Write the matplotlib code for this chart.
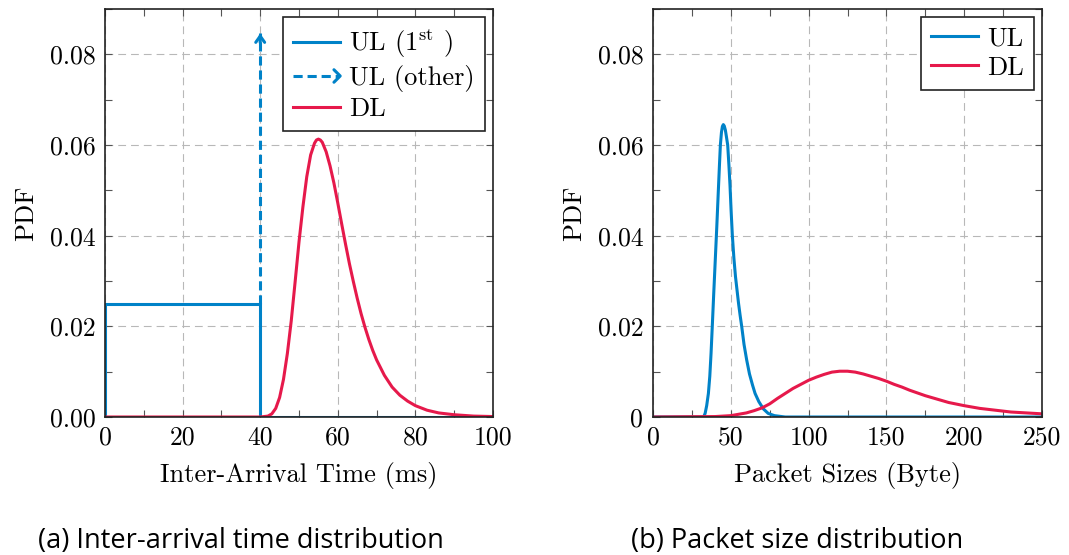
import matplotlib
matplotlib.use("Agg")
import matplotlib.pyplot as plt
from matplotlib.lines import Line2D
from matplotlib.legend_handler import HandlerBase
from matplotlib.ticker import MultipleLocator, FixedLocator, FixedFormatter

# ---------------- data ----------------
# (a) Inter-arrival time distribution
iat_ul1_x = [0, 0, 40, 40, 100]
iat_ul1_y = [0, 0.025, 0.025, 0, 0]
iat_ul_other_x = 40
iat_ul_other_y = [0.025, 0.0846]
iat_dl_x = [0, 40, 41, 42, 43, 44, 45, 46, 47, 48, 49, 50, 51, 52, 53, 54, 54.5,
            55, 55.5, 56, 57, 58, 59, 60, 61, 62, 63, 64, 65, 66, 67, 68, 69,
            70, 72, 74, 76, 78, 80, 83, 86, 90, 95, 100]
iat_dl_y = [0, 0.0000, 0.0001, 0.0002, 0.0007, 0.0019, 0.0043, 0.0083, 0.0140,
            0.0212, 0.0298, 0.0386, 0.0463, 0.0530, 0.0578, 0.0604, 0.0611,
            0.0613, 0.0611, 0.0606, 0.0585, 0.0554, 0.0516, 0.0472, 0.0426,
            0.0381, 0.0338, 0.0299, 0.0262, 0.0228, 0.0198, 0.0171, 0.0147,
            0.0126, 0.0092, 0.0066, 0.0048, 0.0035, 0.0025, 0.0015, 0.0009,
            0.0005, 0.0002, 0.0001]

# (b) Packet size distribution
ps_ul_x = [0, 32.5, 33.5, 34.5, 35.6, 36.5, 37.3, 38.1, 39.0, 40.0, 41.0, 42.0,
           42.7, 43.3, 44.0, 44.6, 45.2, 45.8, 46.5, 47.2, 48.0, 48.8, 49.5,
           50.2, 51.0, 52.0, 53.0, 54.0, 55.0, 56.0, 57.0, 58.5, 60.2, 62.0,
           64.0, 65.6, 68.0, 70.9, 74.0, 78.0, 85.0, 250]
ps_ul_y = [0, 0, 0.0008, 0.0025, 0.0052, 0.0090, 0.0140, 0.0200, 0.0270,
           0.0345, 0.0420, 0.0500, 0.0555, 0.0600, 0.0628, 0.0641, 0.0645,
           0.0642, 0.0633, 0.0618, 0.0600, 0.0555, 0.0510, 0.0455, 0.0400,
           0.0350, 0.0310, 0.0280, 0.0250, 0.0224, 0.0200, 0.0160, 0.0126,
           0.0095, 0.0070, 0.0052, 0.0034, 0.0018, 0.0008, 0.0003, 0.0000, 0]
ps_dl_x = [0, 40, 50, 60, 65, 70, 75, 80, 85, 90, 95, 100, 105, 110, 115, 120,
           125, 130, 135, 140, 145, 150, 155, 160, 165, 170, 175, 180, 185, 190,
           200, 210, 220, 230, 240, 250]
ps_dl_y = [0, 0.0001, 0.0003, 0.0009, 0.0014, 0.0020, 0.0029, 0.0041, 0.0052,
           0.0063, 0.0072, 0.0081, 0.0088, 0.0094, 0.0099, 0.0101, 0.0101,
           0.0099, 0.0095, 0.0090, 0.0085, 0.0079, 0.0072, 0.0066, 0.0059,
           0.0053, 0.0047, 0.0042, 0.0037, 0.0032, 0.0025, 0.0019, 0.0015,
           0.0011, 0.0009, 0.0007]

yticks = [0.0, 0.02, 0.04, 0.06, 0.08]
ytick_labels_a = ["0.00", "0.02", "0.04", "0.06", "0.08"]
ytick_labels_b = ["0", "0.02", "0.04", "0.06", "0.08"]
xticks_a = [0, 20, 40, 60, 80, 100]
xticks_b = [0, 50, 100, 150, 200, 250]

BLUE = "#0082c8"
RED = "#e6194b"
LW = 2.2

# ---------------- style ----------------
plt.rcParams["font.family"] = ["cmr10", "DejaVu Serif"]
plt.rcParams["mathtext.fontset"] = "cm"
plt.rcParams["axes.unicode_minus"] = False
FS = 18.5

fig = plt.figure(figsize=(10.69, 5.55), dpi=100)
ax1 = fig.add_axes([105 / 1069, 1 - 417 / 555, 388 / 1069, 408 / 555])
ax2 = fig.add_axes([653 / 1069, 1 - 417 / 555, 389 / 1069, 408 / 555])


class HandlerDashArrow(HandlerBase):
    def create_artists(self, legend, orig_handle, xdescent, ydescent, width,
                       height, fontsize, trans):
        y = height / 2 - ydescent
        x0 = -xdescent
        x1 = width - xdescent
        line = Line2D([x0, x1 - 1.5], [y, y], color=BLUE, lw=LW,
                      linestyle=(0, (3, 1.6)))
        head = Line2D([x1 - 4.5, x1, x1 - 4.5], [y + 4.5, y, y - 4.5],
                      color=BLUE, lw=LW, solid_joinstyle="round",
                      solid_capstyle="round")
        line.set_transform(trans)
        head.set_transform(trans)
        return [line, head]


def style_axes(ax, xlim, xticks, xminor, ylabels):
    ax.set_xlim(*xlim)
    ax.set_ylim(0, 0.09)
    ax.xaxis.set_major_locator(FixedLocator(xticks))
    ax.xaxis.set_minor_locator(MultipleLocator(xminor))
    ax.yaxis.set_major_locator(FixedLocator(yticks))
    ax.yaxis.set_major_formatter(FixedFormatter(ylabels))
    ax.yaxis.set_minor_locator(MultipleLocator(0.01))
    ax.tick_params(which="both", direction="in", top=True, right=True,
                   color="#555555", labelsize=FS, labelcolor="black")
    ax.tick_params(which="major", length=5, width=0.8)
    ax.tick_params(which="minor", length=5, width=0.8)
    ax.tick_params(axis="y", which="major", pad=7)
    ax.tick_params(axis="x", which="major", pad=6)
    ax.grid(True, which="major", color="#b8b8b8", lw=0.8,
            linestyle=(0, (7, 4.5)))
    ax.set_axisbelow(True)
    for s in ax.spines.values():
        s.set_linewidth(1.2)
        s.set_color("#222222")
    ax.set_ylabel("PDF", fontsize=FS + 0.5, labelpad=8)


LEG_KW = dict(loc="upper right", fontsize=FS + 0.5, frameon=True,
              fancybox=False, edgecolor="#222222", framealpha=1,
              borderaxespad=0.3, handlelength=1.8, handletextpad=0.35,
              borderpad=0.38, labelspacing=0.2)

# ---------------- (a) ----------------
style_axes(ax1, (0, 100), xticks_a, 10, ytick_labels_a)
ax1.plot(iat_ul1_x, iat_ul1_y, color=BLUE, lw=LW, solid_joinstyle="miter")
ax1.plot([iat_ul_other_x, iat_ul_other_x], iat_ul_other_y, color=BLUE, lw=LW,
         linestyle=(0, (3, 1.6)))
ax1.annotate("", xy=(iat_ul_other_x, iat_ul_other_y[1]),
             xytext=(iat_ul_other_x, iat_ul_other_y[1] - 0.002),
             arrowprops=dict(arrowstyle="->,head_length=0.45,head_width=0.32",
                             color=BLUE, lw=LW, shrinkA=0, shrinkB=0))
ax1.plot(iat_dl_x, iat_dl_y, color=RED, lw=LW)
ax1.set_xlabel("Inter-Arrival Time (ms)", fontsize=FS + 0.5, labelpad=9)

h_ul1 = Line2D([], [], color=BLUE, lw=LW)
h_ulo = object()
h_dl = Line2D([], [], color=RED, lw=LW)
leg1 = ax1.legend([h_ul1, h_ulo, h_dl],
                  [r"UL (1$^{\rm st}$ )", "UL (other)", "DL"],
                  handler_map={h_ulo: HandlerDashArrow()}, **LEG_KW)
leg1.get_frame().set_linewidth(1.2)

# ---------------- (b) ----------------
style_axes(ax2, (0, 250), xticks_b, 25, ytick_labels_b)
ax2.plot(ps_ul_x, ps_ul_y, color=BLUE, lw=LW, label="UL")
ax2.plot(ps_dl_x, ps_dl_y, color=RED, lw=LW, label="DL")
ax2.set_xlabel("Packet Sizes (Byte)", fontsize=FS + 0.5, labelpad=9)
leg2 = ax2.legend(**LEG_KW)
leg2.get_frame().set_linewidth(1.2)

# ---------------- captions ----------------
fig.text(241 / 1069, 1 - 541 / 555, "(a) Inter-arrival time distribution",
         ha="center", va="center", fontsize=19.5,
         family=["Open Sans", "DejaVu Sans"])
fig.text(797 / 1069, 1 - 541 / 555, "(b) Packet size distribution",
         ha="center", va="center", fontsize=19.5,
         family=["Open Sans", "DejaVu Sans"])

fig.savefig("out.png", dpi=100)
